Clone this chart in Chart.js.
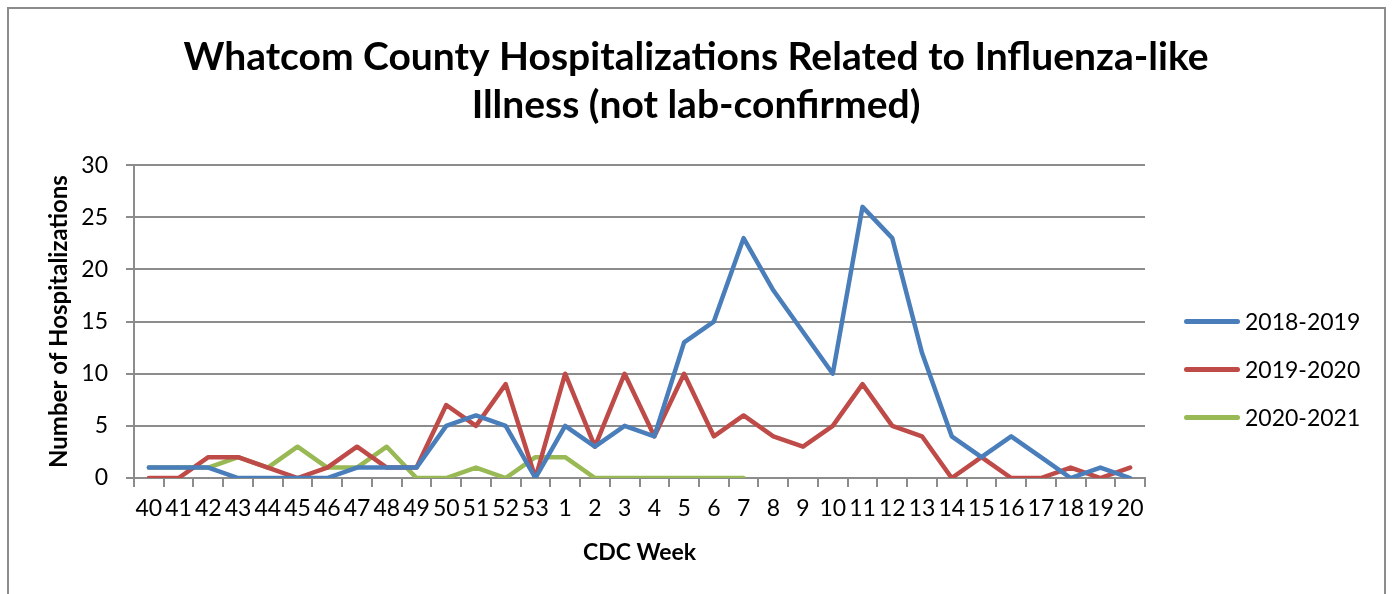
<!DOCTYPE html>
<html>
<head>
<meta charset="utf-8">
<script src="https://cdn.jsdelivr.net/npm/chart.js@4/dist/chart.umd.min.js"></script>
<style>
  html, body { margin: 0; padding: 0; background: #fff; }
  #wrap { position: relative; width: 1392px; height: 594px; }
  #legend { position: absolute; left: 1184px; top: 0; font-family: Lato, sans-serif; font-size: 23px; color: #000; }
  .item { position: absolute; left: 0; display: flex; align-items: center; white-space: nowrap; }
  .swatch { width: 56px; height: 5px; border-radius: 3px; margin-right: 5px; }
</style>
</head>
<body>
<div id="wrap">
  <canvas id="chart" width="1392" height="594"></canvas>
  <div id="legend"></div>
</div>
<script>
// CDC weeks 40..53 then 1..20
const weeks = ['40','41','42','43','44','45','46','47','48','49','50','51','52','53',
  '1','2','3','4','5','6','7','8','9','10','11','12','13','14','15','16','17','18','19','20'];

const season1819 = [1,1,1,0,0,0,0,1,1,1,5,6,5,0,5,3,5,4,13,15,23,18,14,10,26,23,12,4,2,4,2,0,1,0];
const season1920 = [0,0,2,2,1,0,1,3,1,1,7,5,9,0,10,3,10,4,10,4,6,4,3,5,9,5,4,0,2,0,0,1,0,1];
const season2021 = [1,1,1,2,1,3,1,1,3,0,0,1,0,2,2,0,0,0,0,0,0];

const seriesNames = ['2018-2019', '2019-2020', '2020-2021'];
const seriesColors = ['#4a7ebb', '#be4b48', '#98b954'];

const gridColor = '#8c8c8c';

// grey frame round the chart like the original
const framePlugin = {
  id: 'frame',
  beforeDraw(chart) {
    const c = chart.ctx;
    c.save();
    c.strokeStyle = '#8c8c8c';
    c.lineWidth = 2;
    c.beginPath();
    c.moveTo(8, 600);
    c.lineTo(8, 8);
    c.lineTo(1385, 8);
    c.lineTo(1385, 600);
    c.stroke();
    c.restore();
  }
};

const ctx = document.getElementById('chart').getContext('2d');

const datasets = [season1819, season1920, season2021].map((vals, i) => ({
  label: seriesNames[i],
  data: vals,
  borderColor: seriesColors[i],
  backgroundColor: seriesColors[i],
  borderWidth: 4.5,
  pointRadius: 0,
  tension: 0,
  borderJoinStyle: 'round',
  borderCapStyle: 'round',
  fill: false
}));

new Chart(ctx, {
  type: 'line',
  data: { labels: weeks, datasets: datasets },
  options: {
    responsive: false,
    animation: false,
    layout: { padding: 0 },
    plugins: {
      legend: { display: false },
      tooltip: { enabled: false },
      title: {
        display: true,
        text: ['Whatcom County Hospitalizations Related to Influenza-like', 'Illness (not lab-confirmed)'],
        color: '#000',
        font: { family: 'Lato', size: 39, weight: 'bold', lineHeight: 1.22 },
        padding: { top: 34, bottom: 36 }
      }
    },
    scales: {
      x: {
        offset: true,
        afterFit(scale) { scale.height = 594 - 478; },
        grid: { offset: true, drawOnChartArea: false, drawTicks: true, tickLength: 9, color: gridColor, lineWidth: 2 },
        border: { color: gridColor, width: 2 },
        ticks: { color: '#000', font: { family: 'Lato', size: 23 }, padding: 8, maxRotation: 0, autoSkip: false },
        title: {
          display: true,
          text: 'CDC Week',
          color: '#000',
          font: { family: 'Lato', size: 23, weight: 'bold', lineHeight: 1.2 },
          padding: { top: 0, bottom: 28 }
        }
      },
      y: {
        min: 0,
        max: 30,
        afterFit(scale) { scale.width = 134; },
        grid: { color: gridColor, lineWidth: 2, tickLength: 8 },
        border: { color: gridColor, width: 2 },
        ticks: { stepSize: 5, color: '#000', font: { family: 'Lato', size: 23 }, padding: 18 },
        title: {
          display: true,
          text: 'Number of Hospitalizations',
          color: '#000',
          font: { family: 'Lato', size: 24, weight: 'bold', lineHeight: 1.2 },
          padding: { top: 45, bottom: 0 }
        }
      },
      // empty axis on the right just to keep room for the legend
      yRight: {
        position: 'right',
        afterFit(scale) { scale.width = 1392 - 1145; },
        grid: { drawOnChartArea: false, drawTicks: false },
        border: { display: false },
        ticks: { display: false }
      }
    }
  },
  plugins: [framePlugin]
});

// legend as html, to the right of the plot
const legendTops = [321, 369, 417];
const legendEl = document.getElementById('legend');
seriesNames.forEach((name, i) => {
  const item = document.createElement('div');
  item.className = 'item';
  item.style.top = (legendTops[i] - 14) + 'px';
  item.style.height = '28px';
  item.innerHTML = '<span class="swatch" style="background:' + seriesColors[i] + '"></span><span>' + name + '</span>';
  legendEl.appendChild(item);
});
</script>
</body>
</html>
